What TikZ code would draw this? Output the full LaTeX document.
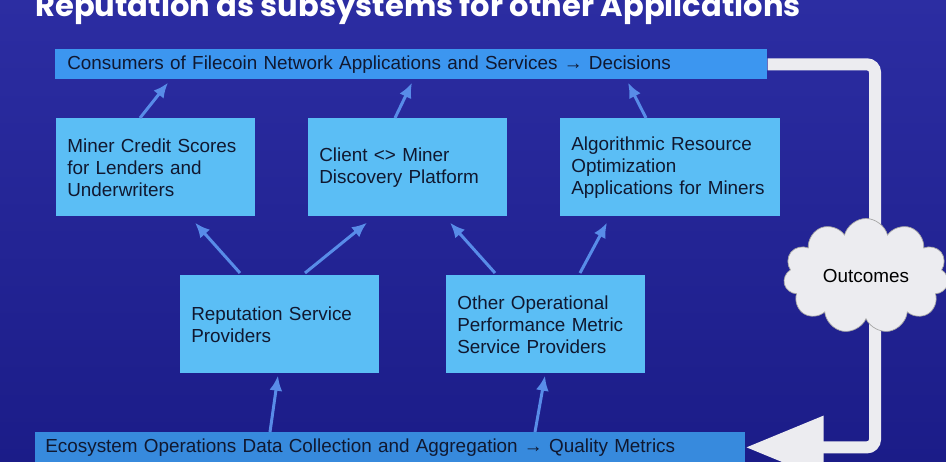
\documentclass[tikz,border=0pt]{standalone}
\usepackage{fontspec}
\setmainfont{Liberation Sans}
\newfontfamily\headfont{Poppins}
\usepackage{tikz}
\usetikzlibrary{arrows.meta,calc,shapes.symbols}
\definecolor{bgtop}{RGB}{44,45,162}
\definecolor{bgbot}{RGB}{27,28,136}
\definecolor{boxfill}{RGB}{91,190,245}
\definecolor{barfill}{RGB}{60,150,240}
\definecolor{feedblue}{RGB}{88,140,232}
\definecolor{loopwhite}{RGB}{236,236,240}
\definecolor{inkdark}{RGB}{16,24,48}
\tikzset{
    Box/.style = {fill=boxfill,text=inkdark,inner xsep=0.22cm,inner ysep=0pt,
        text width=3.54cm,minimum height=1.96cm,align=left,anchor=north west,
        font=\fontsize{10.75}{12.5}\selectfont},
    Bar/.style = {fill=barfill,text=inkdark,inner ysep=0pt,minimum height=0.6cm,
        align=left,anchor=north west,font=\fontsize{10.75}{12.5}\selectfont},
    Feed/.style = {draw=feedblue,line width=1.7pt,-{Latex[length=0.3cm,width=0.26cm]}},
    Loop/.style = {draw=loopwhite,line width=0.24cm,rounded corners=0.16cm,
        -{Triangle[length=1.56cm,width=1.2cm]}}
}

\begin{document}
\begin{tikzpicture}[x=0.02cm,y=-0.02cm]
        \shade[top color=bgtop,bottom color=bgbot] (0,0) rectangle (946,462);
        \useasboundingbox (0,0) rectangle (946,462);
        \node[anchor=base west,text=white,inner sep=0pt,
            font=\headfont\bfseries\fontsize{17.4}{20}\selectfont] (heading) at (35,17)
            {Reputation as subsystems for other Applications};
        % top and bottom bars
        \node[Bar,text width=13.76cm,inner xsep=0.24cm] (consumers) at (55,49)
            {Consumers of Filecoin Network Applications and Services → Decisions};
        \node[Bar,text width=13.8cm,inner xsep=0.2cm,fill=barfill!92!black] (ecosystem) at (35,432)
            {Ecosystem Operations Data Collection and Aggregation → Quality Metrics};
        % applications
        \node[Box] (credit) at (56,118) {Miner Credit Scores\\for Lenders and\\Underwriters};
        \node[Box] (discovery) at (308,118) {Client <> Miner\\Discovery Platform};
        \node[Box,text width=3.96cm] (optim) at (560,118)
            {Algorithmic Resource\\Optimization\\Applications for Miners};
        % providers
        \node[Box] (repsp) at (180,275) {Reputation Service\\Providers};
        \node[Box] (other) at (446,275) {Other Operational\\Performance Metric\\Service Providers};
        % feedback loop
        \coordinate (loopx) at (875,0);
        \draw[Loop] (consumers.east) -- (consumers.east -| loopx)
            -- (ecosystem.east -| loopx) -- (ecosystem.east);
        \node[cloud,cloud puffs=11,aspect=1.45,fill=loopwhite,draw=gray!70,
            minimum width=3.3cm,minimum height=2.3cm,inner sep=0pt,
            font=\fontsize{10.75}{12.5}\selectfont] (outcomes) at (866,276) {Outcomes};
        % arrows
        \draw[Feed] ($(credit.north west)+(84,0)$) -- ($(consumers.south west)+(113,3)$);
        \draw[Feed] ($(discovery.north west)+(87,0)$) -- ($(consumers.south west)+(357,3)$);
        \draw[Feed] ($(optim.north west)+(86,0)$) -- ($(consumers.south west)+(573,3)$);
        \draw[Feed] ($(repsp.north west)+(60,-2)$) -- ($(credit.south west)+(139,6)$);
        \draw[Feed] ($(repsp.north west)+(125,-2)$) -- ($(discovery.south west)+(59,6)$);
        \draw[Feed] ($(other.north west)+(49,-2)$) -- ($(discovery.south west)+(142,6)$);
        \draw[Feed] ($(other.north west)+(134,-2)$) -- ($(optim.south west)+(47,6)$);
        \draw[Feed] ($(ecosystem.north west)+(235,0)$) -- ($(repsp.south west)+(98,2)$);
        \draw[Feed] ($(ecosystem.north west)+(500,0)$) -- ($(other.south west)+(99,2)$);
\end{tikzpicture}
\end{document}
